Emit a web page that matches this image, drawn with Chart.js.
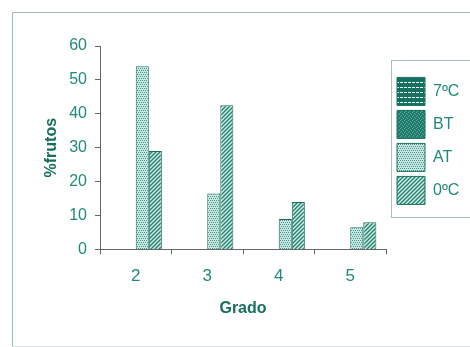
<!DOCTYPE html>
<html>
<head>
<meta charset="utf-8">
<script src="https://cdn.jsdelivr.net/npm/chart.js@4.4.1/dist/chart.umd.min.js"></script>
<style>
  html, body { margin: 0; padding: 0; background: #fff; }
  #wrap { width: 470px; height: 347px; }
</style>
</head>
<body>
<div id="wrap"><canvas id="chart" width="470" height="347"></canvas></div>
<script>
// values
const grades = ["2", "3", "4", "5"];
const seriesNames = ["7ºC", "BT", "AT", "0ºC"];
const t7 = [null, null, null, null];
const bt = [null, null, null, null];
const at = [54, 16.5, 9, 6.5];
const c0 = [29, 42.5, 14, 8];
const yTicks = [0, 10, 20, 30, 40, 50, 60];

const TEAL = "#1f8a79";
const DARK = "#17705f";
const FONT = "'Liberation Sans Narrow', 'Liberation Sans', Arial, sans-serif";

function makePattern(draw, w, h) {
  const c = document.createElement("canvas");
  c.width = w; c.height = h;
  draw(c.getContext("2d"), w, h);
  return c.getContext("2d").createPattern(c, "repeat");
}

// 7ºC: dark with white dashed rows
const pat7 = makePattern((g, w, h) => {
  g.fillStyle = DARK; g.fillRect(0, 0, w, h);
  g.fillStyle = "#e8f4f1";
  g.fillRect(0, 2, 3, 1); g.fillRect(4, 2, 3, 1);
}, 8, 5);
// BT: dark speckle
const patBT = makePattern((g, w, h) => {
  g.fillStyle = "#1b7a69"; g.fillRect(0, 0, w, h);
  g.fillStyle = "#5fa598";
  g.fillRect(0, 0, 1, 1); g.fillRect(2, 1, 1, 1); g.fillRect(1, 3, 1, 1); g.fillRect(3, 2, 1, 1);
}, 4, 4);
// AT: fine dot grid
const patAT = makePattern((g, w, h) => {
  g.fillStyle = "#cbe7e1"; g.fillRect(0, 0, w, h);
  g.fillStyle = "#3e978a";
  g.fillRect(0, 0, 1, 1); g.fillRect(2, 0, 1, 1);
  g.fillRect(1, 2, 1, 1); g.fillRect(3, 2, 1, 1);
}, 4, 4);
// 0ºC: diagonal hatch
const patC0 = makePattern((g, w, h) => {
  g.fillStyle = "#cfe9e4"; g.fillRect(0, 0, w, h);
  g.strokeStyle = "#22826f"; g.lineWidth = 1.3;
  g.beginPath();
  g.moveTo(0, h); g.lineTo(w, 0);
  g.moveTo(-1, 1); g.lineTo(1, -1);
  g.moveTo(w - 1, h + 1); g.lineTo(w + 1, h - 1);
  g.stroke();
}, 4, 4);

const fills = [pat7, patBT, patAT, patC0];
const values = [t7, bt, at, c0];

const framePlugin = {
  id: "frame",
  beforeLayout(chart) {
    // give the legend a fixed width so the plot ends where the reference does
    const lg = chart.legend;
    if (lg && !lg._fixed) {
      const fit = lg.fit;
      lg.fit = function () { fit.call(this); this.width = 83; };
      lg._fixed = true;
    }
  },
  afterLayout(chart) {
    // nudge the legend items right, into their box
    const lg = chart.legend;
    if (lg) { lg.left += 6; lg.right += 6; }
  },
  beforeDraw(chart) {
    const g = chart.ctx;
    g.save();
    g.strokeStyle = "#9fb8b3";
    g.lineWidth = 1;
    g.beginPath();
    g.moveTo(12.5, 346); g.lineTo(12.5, 12.5); g.lineTo(470, 12.5);
    g.stroke();
    g.strokeStyle = "#d8e4e1";
    g.beginPath(); g.moveTo(12, 346.5); g.lineTo(470, 346.5); g.stroke();
    // legend border
    g.strokeStyle = "#a9bdb9";
    g.strokeRect(391.5, 60.5, 80, 157);
    g.restore();
  }
};

new Chart(document.getElementById("chart"), {
  type: "bar",
  data: {
    labels: grades,
    datasets: seriesNames.map((name, i) => ({
      label: name,
      data: values[i],
      backgroundColor: fills[i],
      borderColor: DARK,
      borderWidth: 1,
      categoryPercentage: 0.73,
      barPercentage: 1
    }))
  },
  options: {
    responsive: false,
    animation: false,
    layout: { padding: { left: 38, top: 46, right: 1, bottom: 25 } },
    plugins: {
      tooltip: { enabled: false },
      legend: {
        position: "right",
        align: "start",
        title: { display: true, text: " ", padding: { top: 0, bottom: 12 }, font: { size: 12 } },
        labels: {
          boxWidth: 28,
          boxHeight: 28,
          padding: 5,
          color: TEAL,
          font: { family: FONT, size: 16 }
        }
      }
    },
    scales: {
      x: {
        grid: { drawOnChartArea: false, offset: true, color: "#666", tickLength: 5 },
        border: { color: "#666" },
        ticks: { color: TEAL, padding: 12, font: { family: "'Liberation Sans', Arial", size: 17 } },
        title: { display: true, text: "Grado", color: DARK, padding: { top: 0 }, font: { family: FONT, size: 16, weight: "bold" } }
      },
      y: {
        min: 0,
        max: 60,
        afterBuildTicks: (s) => { s.ticks = yTicks.map(v => ({ value: v })); },
        afterFit: (s) => { s.width = 62; },
        grid: { drawOnChartArea: false, color: "#666", tickLength: 5 },
        border: { color: "#666" },
        ticks: { color: TEAL, padding: 8, font: { family: FONT, size: 16 } },
        title: { display: true, text: "%frutos", color: DARK, font: { family: FONT, size: 16, weight: "bold" } }
      }
    }
  },
  plugins: [framePlugin]
});
</script>
</body>
</html>
